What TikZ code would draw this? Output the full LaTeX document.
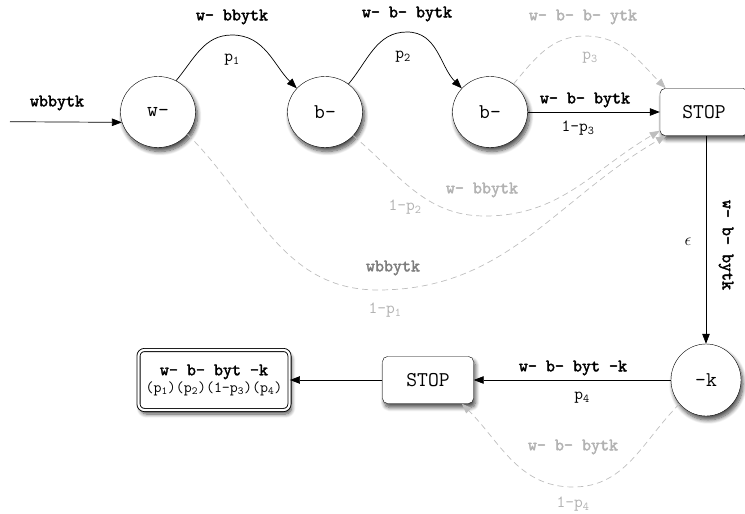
\documentclass[tikz,border=0pt]{standalone}
\usepackage{fontspec}
\newfontfamily\wordfont[FakeBold=2.2]{Latin Modern Mono}
\usepackage{xcolor}
\definecolor{dashgrey}{RGB}{190,190,190}
\definecolor{labelgrey}{RGB}{178,178,178}
\definecolor{midgrey}{RGB}{125,125,125}
\usetikzlibrary{arrows.meta,positioning,shapes.geometric,shadows.blur}

\begin{document}
\begin{tikzpicture}[
    x=1pt, y=-1pt,
    soft shadow/.style={blur shadow={shadow xshift=2pt, shadow yshift=-4pt, shadow blur radius=4pt, shadow blur steps=8, shadow opacity=70}},
    state node/.style={ellipse, draw=black, fill=white, minimum width=75pt, minimum height=71pt, inner sep=0pt, font=\ttfamily\fontsize{21}{22}\selectfont, soft shadow},
    stop node/.style={rectangle, rounded corners=5pt, draw=black, fill=white, minimum height=47pt, font=\ttfamily\fontsize{21}{22}\selectfont, soft shadow},
    result node/.style={rectangle, rounded corners=6pt, draw=black, double, double distance=2.2pt, line width=0.9pt, fill=white, minimum width=151pt, minimum height=60pt, align=center, soft shadow},
    word/.style={font=\wordfont\fontsize{17.5}{20}\selectfont\mdseries, inner sep=1pt},
    prob/.style={font=\ttfamily\fontsize{17}{20}\selectfont, inner sep=1pt},
    arrow/.style={-{Triangle[length=10pt,width=7.5pt]}, black, line width=0.7pt},
    skip arrow/.style={-{Triangle[length=10pt,width=7.5pt]}, dashgrey, dash pattern=on 6pt off 4pt, line width=0.7pt}
]
    \useasboundingbox (0,0) rectangle (745,514);

    % States
    \node[state node] (w)  at (158,112) {w-};
    \node[state node] (bA) at (325,112) {b-};
    \node[state node] (bB) at (490,112) {b-};
    \node[stop node, minimum width=88pt] (stopA) at (704,112) {STOP};
    \node[state node, minimum width=70pt, minimum height=72pt] (k) at (706,380) {-k};
    \node[stop node, minimum width=91pt] (stopB) at (428,380) {STOP};
    \node[result node] (result) at (214,380)
        {\wordfont\fontsize{17.5}{21}\selectfont w- b- byt -k\\[1pt]
         \ttfamily\fontsize{15.5}{18}\selectfont(p\textsubscript{1})(p\textsubscript{2})(1-p\textsubscript{3})(p\textsubscript{4})};

    % Input
    \coordinate (in) at (10,121.7);
    \node[word] (inword) at (57,103) {wbbytk};
    \draw[arrow] (in) -- (w.196);

    % Upper paths
    \coordinate (peakA) at (232,35);
    \coordinate (peakB) at (407,32);
    \coordinate (peakC) at (585,36);
    \draw[arrow] (w.60) to[out=50,in=180] (peakA) to[out=0,in=135] (bA.140);
    \draw[arrow] (bA.50) to[out=50,in=180] (peakB) to[out=0,in=135] (bB.140);
    \draw[skip arrow] (bB.50) to[out=50,in=180] (peakC) to[out=0,in=135] ([xshift=6pt]stopA.north west);
    \node[word] (wordA) at (232,17) {w- bbytk};
    \node[prob] (probA) at (232,60) {p\textsubscript{1}};
    \node[word] (wordB) at (407,14) {w- b- bytk};
    \node[prob] (probB) at (403,57) {p\textsubscript{2}};
    \node[word, labelgrey] (wordC) at (583,17) {w- b- b- ytk};
    \node[prob, labelgrey] (probC) at (590,58) {p\textsubscript{3}};

    % Straight exit
    \draw[arrow] (bB) -- (stopA);
    \node[word] (wordD) at (585,100) {w- b- bytk};
    \node[prob] (probD) at (578,128) {1-p\textsubscript{3}};

    % Lower paths
    \coordinate (dipB) at (485,216);
    \coordinate (dipA) at (378,290);
    \draw[skip arrow] (bA.-40) to[out=-40,in=180] (dipB) to[out=0,in=210] (stopA.203);
    \draw[skip arrow] (w.-37) to[out=-45,in=180] (dipA) to[out=0,in=210] (stopA.212);
    \node[word, labelgrey] (wordE) at (482,190) {w- bbytk};
    \node[prob, labelgrey] (probE) at (405,207) {1-p\textsubscript{2}};
    \node[word, midgrey] (wordF) at (393,268) {wbbytk};
    \node[prob, labelgrey] (probF) at (385,310) {1-p\textsubscript{1}};

    % Down to k
    \draw[arrow] (stopA.south -| k.north) -- (k.north);
    \node (eps) at (688,242) {\fontsize{19}{20}\selectfont$\epsilon$};
    \node[word, rotate=-90] (wordG) at (726,245) {w- b- bytk};

    % Bottom row
    \draw[arrow] (k) -- (stopB);
    \node[word] (wordH) at (573,368) {w- b- byt -k};
    \node[prob] (probH) at (582,398) {p\textsubscript{4}};
    \coordinate (dipC) at (573,487);
    \draw[skip arrow] (k.222) to[out=225,in=0] (dipC) to[out=180,in=-45] (stopB.-35);
    \node[word, labelgrey] (wordI) at (573,447) {w- b- bytk};
    \node[prob, labelgrey] (probI) at (573,504) {1-p\textsubscript{4}};
    \draw[arrow] (stopB) -- (result);
\end{tikzpicture}
\end{document}
